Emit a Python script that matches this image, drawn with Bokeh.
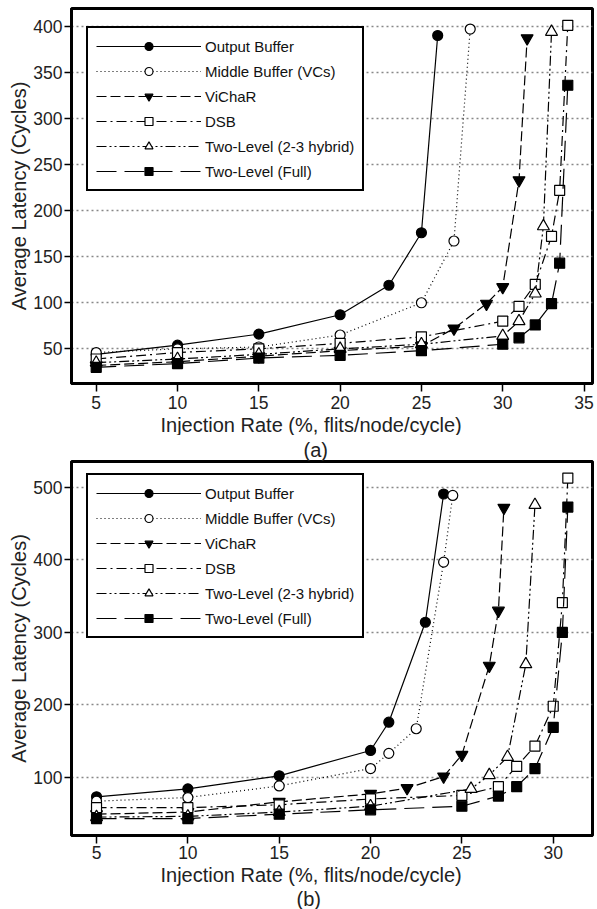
from bokeh.plotting import figure
from bokeh.layouts import column
from bokeh.models import Legend, LegendItem, Title, FixedTicker, Range1d
from bokeh.embed import file_html
from bokeh.resources import INLINE

# ---------------- data (a) ----------------
a_ob_x = [5, 10, 15, 20, 23, 25, 26]
a_ob_y = [44, 54, 66, 87, 119, 176, 390]
a_mb_x = [5, 10, 15, 20, 25, 27, 28]
a_mb_y = [46, 50, 52, 65, 100, 167, 397]
a_vc_x = [5, 10, 15, 20, 25, 27, 29, 30, 31, 31.5]
a_vc_y = [32, 36, 42, 48, 53, 72, 99, 117, 233, 387]
a_dsb_x = [5, 10, 15, 20, 25, 30, 31, 32, 33, 33.5, 34]
a_dsb_y = [39, 46, 50, 56, 63, 80, 96, 120, 172, 222, 401]
a_hy_x = [5, 10, 15, 20, 25, 30, 31, 32, 32.5, 33]
a_hy_y = [35, 39, 44, 50, 55, 64, 80, 110, 183, 394]
a_fu_x = [5, 10, 15, 20, 25, 30, 31, 32, 33, 33.5, 34]
a_fu_y = [30, 34, 40, 43, 48, 55, 62, 76, 99, 143, 336]

# ---------------- data (b) ----------------
b_ob_x = [5, 10, 15, 20, 21, 23, 24]
b_ob_y = [73, 84, 102, 137, 176, 314, 491]
b_mb_x = [5, 10, 15, 20, 21, 22.5, 24, 24.5]
b_mb_y = [67, 72, 88, 112, 133, 167, 397, 489]
b_vc_x = [5, 10, 15, 20, 22, 24, 25, 26.5, 27, 27.3]
b_vc_y = [49, 52, 66, 77, 85, 101, 131, 254, 330, 472]
b_dsb_x = [5, 10, 15, 20, 25, 27, 28, 29, 30, 30.5, 30.8]
b_dsb_y = [58, 58, 62, 70, 75, 87, 115, 143, 198, 341, 513]
b_hy_x = [5, 10, 15, 20, 25.5, 26.5, 27.5, 28.5, 29]
b_hy_y = [45, 46, 52, 60, 84, 103, 128, 256, 476]
b_fu_x = [5, 10, 15, 20, 25, 27, 28, 29, 30, 30.5, 30.8]
b_fu_y = [43, 43, 49, 55, 60, 74, 87, 112, 169, 300, 473]

series_names = ["Output Buffer", "Middle Buffer (VCs)", "ViChaR", "DSB",
                "Two-Level (2-3 hybrid)", "Two-Level (Full)"]
a_ticks_x = [5, 10, 15, 20, 25, 30, 35]
a_ticks_y = [50, 100, 150, 200, 250, 300, 350, 400]
b_ticks_x = [5, 10, 15, 20, 25, 30]
b_ticks_y = [100, 200, 300, 400, 500]

FONT = "Liberation Sans"
TXT = "#222222"

styles = [
    dict(dash="solid", marker="circle", fill="black", size=10),
    dict(dash="1 3", marker="circle", fill="white", size=10),
    dict(dash="10 4", marker="inverted_triangle", fill="black", size=12),
    dict(dash="10 4 2 4", marker="square", fill="white", size=10),
    dict(dash="10 3 2 3 2 3", marker="triangle", fill="white", size=12),
    dict(dash="20 8", marker="square", fill="black", size=10),
]


def title(text, offset, standoff=0):
    return Title(text=text, align="left", offset=offset, standoff=standoff,
                 text_font=FONT, text_font_size="20px", text_font_style="normal",
                 text_color=TXT, text_line_height=0.8)


def make_fig(data, xr, yr, xt, yt, top_border, frame_h, bottom_border,
             legend_bottom, xlab, x_standoff):
    p = figure(frame_width=521, frame_height=frame_h,
               x_range=Range1d(*xr), y_range=Range1d(*yr),
               output_backend="svg", toolbar_location=None,
               min_border_left=71, min_border_right=5,
               min_border_top=top_border, min_border_bottom=bottom_border)
    p.title.visible = False
    p.background_fill_color = "white"
    p.border_fill_color = "white"
    p.outline_line_color = "black"
    p.outline_line_alpha = 1.0
    p.outline_line_width = 3
    p.xgrid.visible = False
    p.ygrid.grid_line_color = "#888888"
    p.ygrid.grid_line_dash = "2 3"
    p.ygrid.grid_line_width = 1.5
    p.xaxis.ticker = FixedTicker(ticks=xt)
    p.yaxis.ticker = FixedTicker(ticks=yt)
    for ax in (p.xaxis[0], p.yaxis[0]):
        ax.axis_line_width = 3
        ax.axis_line_color = "black"
        ax.major_tick_line_color = "black"
        ax.major_tick_line_width = 1.5
        ax.major_tick_in = 0
        ax.minor_tick_line_color = None
        ax.major_label_text_font = FONT
        ax.major_label_text_font_size = "17.5px"
        ax.major_label_text_color = TXT
    p.xaxis.major_tick_out = 8
    p.xaxis.major_label_standoff = x_standoff
    p.yaxis.major_tick_out = 7
    p.yaxis.major_label_standoff = 2
    p.yaxis.axis_label = "Average Latency (Cycles)"
    p.yaxis.axis_label_text_font = FONT
    p.yaxis.axis_label_text_font_size = "20px"
    p.yaxis.axis_label_text_font_style = "normal"
    p.yaxis.axis_label_text_color = TXT
    p.yaxis.axis_label_standoff = 0

    items = []
    for name, (xs, ys), st in zip(series_names, data, styles):
        lr = p.line(xs, ys, line_color="black", line_width=1.2, line_dash=st["dash"])
        sr = p.scatter(xs, ys, marker=st["marker"], size=st["size"],
                       fill_color=st["fill"], line_color="black", line_width=1.2)
        items.append(LegendItem(label=name, renderers=[lr, sr]))

    leg = Legend(items=items, location=(15, legend_bottom), margin=0,
                 glyph_width=105, glyph_height=20, label_height=20,
                 label_standoff=4, spacing=5, padding=8,
                 border_line_color="black", border_line_width=2.5,
                 border_line_alpha=1.0,
                 background_fill_color="white", background_fill_alpha=1.0,
                 label_text_font=FONT, label_text_font_size="15px",
                 label_text_color="#111111")
    p.add_layout(leg, "center")
    p.add_layout(title(xlab, 89), "below")
    return p


xlabel = "Injection Rate  (%, flits/node/cycle)"

p1 = make_fig([(a_ob_x, a_ob_y), (a_mb_x, a_mb_y), (a_vc_x, a_vc_y),
               (a_dsb_x, a_dsb_y), (a_hy_x, a_hy_y), (a_fu_x, a_fu_y)],
              (3.48, 35.52), (12.4, 419.3), a_ticks_x, a_ticks_y,
              8, 375, 10, 192, xlabel, 4)

p2 = make_fig([(b_ob_x, b_ob_y), (b_mb_x, b_mb_y), (b_vc_x, b_vc_y),
               (b_dsb_x, b_dsb_y), (b_hy_x, b_hy_y), (b_fu_x, b_fu_y)],
              (3.63, 32.15), (19.6, 535.9), b_ticks_x, b_ticks_y,
              0, 374, 0, 197, xlabel, 2)
# "(a)" sits just above the second panel, "(b)" below the second x label
p2.add_layout(title("(a)", 232, standoff=2), "above")
p2.add_layout(title("(b)", 225), "below")

layout = column(p1, p2, spacing=0)
open("out.html", "w").write(file_html(layout, INLINE))
